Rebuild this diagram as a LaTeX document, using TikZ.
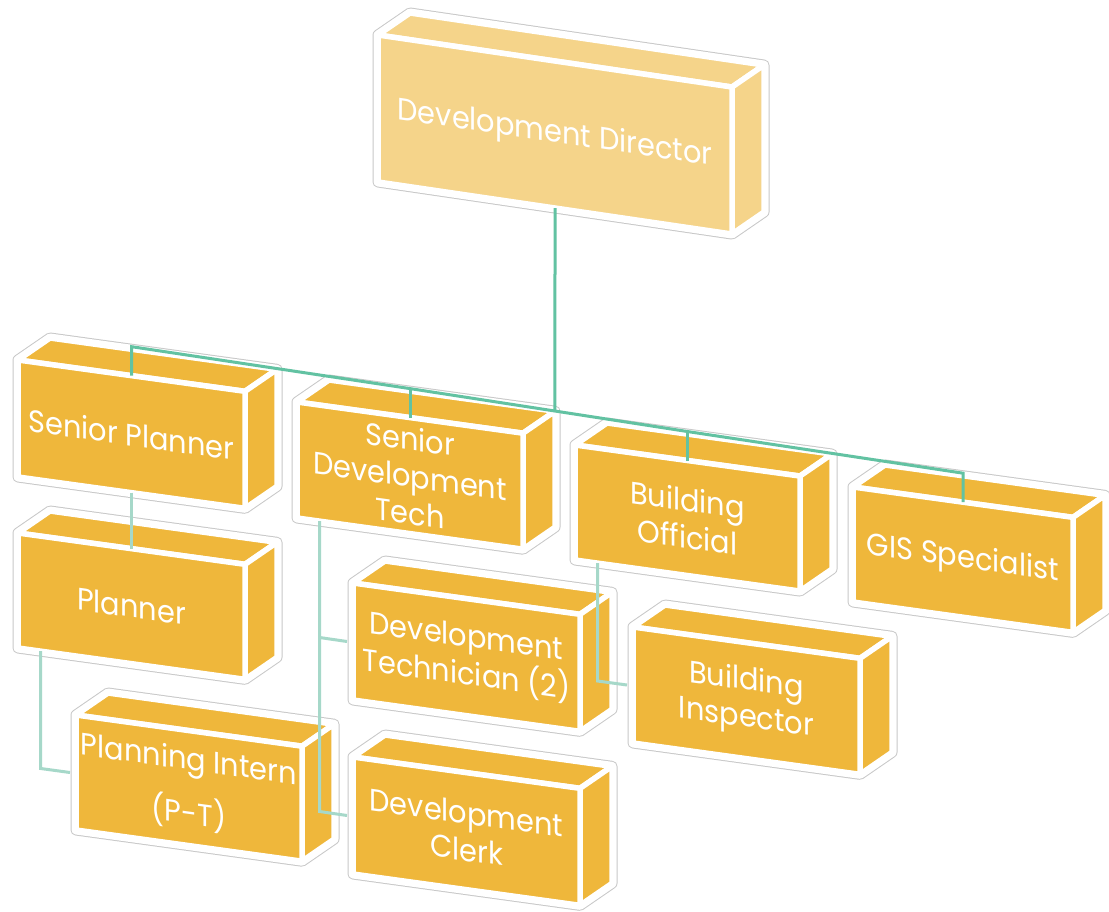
\documentclass[tikz,border=0pt]{standalone}
\usepackage{fontspec}
\setmainfont{Poppins}[FakeStretch=0.93]
\usetikzlibrary{calc}
\definecolor{gold}{RGB}{239,183,59}
\definecolor{lightgold}{RGB}{245,212,138}
\definecolor{tealmain}{RGB}{98,194,162}
\definecolor{tealsub}{RGB}{166,216,201}
\definecolor{halogray}{RGB}{200,200,200}
\tikzset{
  halo/.style={fill=white, draw=halogray, line width=11pt, line join=round},
  halowhite/.style={draw=white, line width=9pt, line join=round},
  face/.style={fill=#1, draw=white, line width=5.5pt, line join=round},
  lbl/.style={text=white, align=center, inner sep=0pt, font=\fontsize{31}{37}\selectfont},
  mainconn/.style={draw=tealmain, line width=3pt},
  subconn/.style={draw=tealsub, line width=3pt},
}
% name, x, y, w, h, slope, colour, text
\newcommand\orgbox[8]{%
  \coordinate (#1-tl) at (#2,#3);
  \coordinate (#1-tr) at ({#2+#4},{#3+#6*#4});
  \coordinate (#1-br) at ({#2+#4},{#3+#6*#4+#5});
  \coordinate (#1-bl) at (#2,{#3+#5});
  \coordinate (#1-ttl) at ($(#1-tl)+(32,-22)$);
  \coordinate (#1-ttr) at ($(#1-tr)+(32,-22)$);
  \coordinate (#1-tbr) at ($(#1-br)+(32,-22)$);
  \coordinate (#1-tc) at ($(#1-tl)!0.5!(#1-tr)$);
  \coordinate (#1-bc) at ($(#1-bl)!0.5!(#1-br)$);
  \coordinate (#1-c) at ($(#1-tc)!0.5!(#1-bc)$);
  \coordinate (#1-ml) at ($(#1-tl)!0.5!(#1-bl)$);
  \path[halo] (#1-bl) -- (#1-tl) -- (#1-ttl) -- (#1-ttr) -- (#1-tbr) -- (#1-br) -- cycle;
  \path[halowhite] (#1-bl) -- (#1-tl) -- (#1-ttl) -- (#1-ttr) -- (#1-tbr) -- (#1-br) -- cycle;
  \path[face=#7] (#1-tl) -- (#1-ttl) -- (#1-ttr) -- (#1-tr) -- cycle;
  \path[face=#7] (#1-tr) -- (#1-ttr) -- (#1-tbr) -- (#1-br) -- cycle;
  \path[face=#7] (#1-tl) -- (#1-tr) -- (#1-br) -- (#1-bl) -- cycle;
  \node[lbl, yslant=-#6] (#1) at (#1-c) {#8};
}
\begin{document}
\begin{tikzpicture}[x=1pt, y=-1pt]
\useasboundingbox (0,0) rectangle (1109,911);
\fill[white] (0,0) rectangle (1109,911);

\orgbox{dd}{378}{35}{354}{147}{0.147}{lightgold}{Development Director}
\orgbox{sp}{18}{360}{227}{117}{0.138}{gold}{Senior Planner}
\orgbox{sdt}{297}{402}{226}{116}{0.138}{gold}{Senior\\Development\\Tech}
\orgbox{bo}{575}{445}{225}{115}{0.138}{gold}{Building\\Official}
\orgbox{gis}{853}{487}{220}{115}{0.138}{gold}{GIS Specialist}
\orgbox{pl}{18}{533}{227}{115}{0.138}{gold}{Planner}
\orgbox{in}{76}{715}{226}{115}{0.138}{gold}{Planning Intern\\[16pt](P-T)}
\orgbox{dt}{353}{583}{227}{117}{0.138}{gold}{Development\\Technician (2)}
\orgbox{dc}{353}{757}{227}{117}{0.138}{gold}{Development\\Clerk}
\orgbox{bi}{633}{627}{227}{116}{0.138}{gold}{Building\\Inspector}

% main bus
\coordinate (spb) at ($(sp-tc)+(0,-29)$);
\coordinate (sdtb) at ($(sdt-tc)+(0,-29)$);
\coordinate (bob) at ($(bo-tc)+(0,-29)$);
\coordinate (gisb) at ($(gis-tc)+(0,-29)$);
\coordinate (busd) at (intersection of dd-tc--dd-bc and sdtb--bob);
\draw[mainconn] (dd-bc) -- (busd);
\draw[mainconn, line join=miter] (sp-tc) -- (spb) -- (sdtb) -- (bob) -- (gisb) -- (gis-tc);
\draw[mainconn] (sdt-tc) -- (sdtb);
\draw[mainconn] (bo-tc) -- (bob);

% sub connectors
\draw[subconn] (sp-bc) -- (pl-tc);
\coordinate (plx) at ($(pl-bl)!0.1!(pl-br)$);
\coordinate (inl) at ($(in-ml)+(-6,0)$);
\coordinate (e1) at ($(plx|-inl)+(0,-4)$);
\draw[subconn] (plx) -- (e1) -- (inl);

\coordinate (sdx) at ($(sdt-bl)!0.1!(sdt-br)$);
\coordinate (dtl) at ($(dt-ml)+(-6,0)$);
\coordinate (dcl) at ($(dc-ml)+(-6,0)$);
\coordinate (e2) at ($(sdx|-dtl)+(0,-4)$);
\coordinate (e3) at ($(sdx|-dcl)+(0,-4)$);
\draw[subconn] (sdx) -- (e3) -- (dcl);
\draw[subconn] (e2) -- (dtl);

\coordinate (box) at ($(bo-bl)!0.1!(bo-br)$);
\coordinate (bil) at ($(bi-ml)+(-6,0)$);
\coordinate (e4) at ($(box|-bil)+(0,-4)$);
\draw[subconn] (box) -- (e4) -- (bil);
\end{tikzpicture}
\end{document}
